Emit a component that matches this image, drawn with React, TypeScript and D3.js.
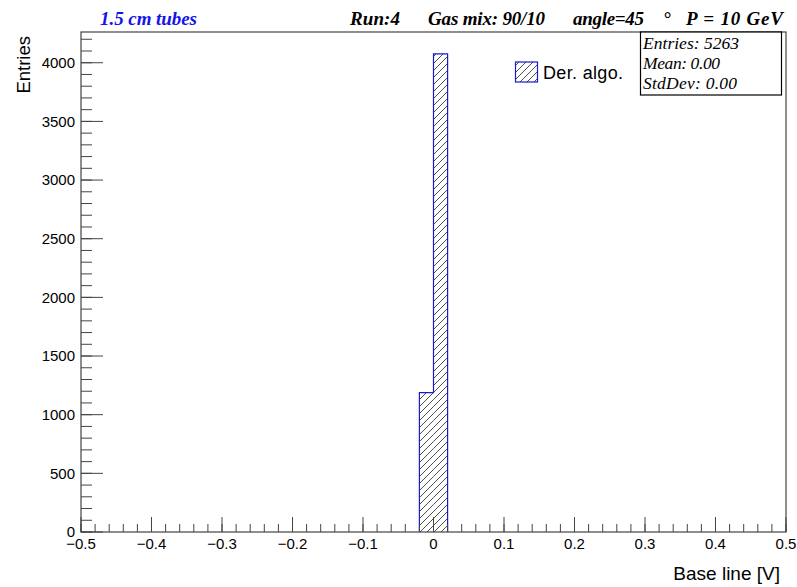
import React from "react";
import * as d3 from "d3";

const binStarts = [-0.02, 0.0];
const binCounts = [1188, 4075];
const binWidth = 0.02;
const xMajorTicks = [-0.5, -0.4, -0.3, -0.2, -0.1, 0, 0.1, 0.2, 0.3, 0.4, 0.5];
const yMajorTicks = [0, 500, 1000, 1500, 2000, 2500, 3000, 3500, 4000];
const statsLines = ["Entries: 5263", "Mean: 0.00", "StdDev: 0.00"];
const statsWidths = [96, 77, 94];
const headerItems = ["Run:4", "Gas mix: 90/10", "angle=45", "°", "P = 10 GeV"];
const headerX = [350, 428, 573, 663, 686];
const headerW = [50, 117, 71, 0, 97];

const W = 797, H = 587;
const L = 81, R = 786, T = 32, B = 532;

export default function App() {
  const x = d3.scaleLinear().domain([-0.5, 0.5]).range([L, R]);
  const y = d3.scaleLinear().domain([0, 4262]).range([B, T]);
  const xMinor = d3.range(-0.5, 0.5001, 0.02).map((v) => +v.toFixed(3));
  const yMinor = d3.range(0, 4262, 100);
  const fmtX = (v: number) => (v === 0 ? "0" : (v < 0 ? "\u2212" : "") + Math.abs(v).toFixed(1));
  const axisColor = "#444";
  const sans = "'Liberation Sans', Arial, sans-serif";
  const serif = "'Liberation Serif', 'Times New Roman', serif";

  return (
    <svg width={W} height={H} style={{ position: "absolute", left: 0, top: 0, background: "#fff" }}>
      <defs>
        <pattern id="hatch" patternUnits="userSpaceOnUse" width={7} height={7}>
          <path d="M-1,1 l2,-2 M0,7 l7,-7 M6,8 l2,-2" stroke="#222" strokeWidth={0.8} />
        </pattern>
      </defs>
      <rect x={0} y={0} width={W} height={H} fill="#fff" />
      {binStarts.map((s, i) => (
        <rect
          key={i}
          x={x(s)}
          y={y(binCounts[i])}
          width={x(s + binWidth) - x(s)}
          height={B - y(binCounts[i])}
          fill="url(#hatch)"
        />
      ))}
      <path
        d={(() => {
          const p = d3.path();
          p.moveTo(x(binStarts[0]), B);
          binStarts.forEach((s, i) => {
            p.lineTo(x(s), y(binCounts[i]));
            p.lineTo(x(s + binWidth), y(binCounts[i]));
          });
          p.lineTo(x(binStarts[binStarts.length - 1] + binWidth), B);
          return p.toString();
        })()}
        fill="none"
        stroke="#1a1acc"
        strokeWidth={1.2}
      />
      <rect x={L} y={T} width={R - L} height={B - T} fill="none" stroke={axisColor} strokeWidth={1.2} />
      {xMinor.map((v, i) => (
        <line key={"xm" + i} x1={x(v)} x2={x(v)} y1={B} y2={B - 8} stroke={axisColor} strokeWidth={1} />
      ))}
      {xMajorTicks.map((v, i) => (
        <g key={"xM" + i}>
          <line x1={x(v)} x2={x(v)} y1={B} y2={B - 15} stroke={axisColor} strokeWidth={1} />
          <text x={x(v)} y={549} textAnchor="middle" fontFamily={sans} fontSize={15} fill="#000">
            {fmtX(v)}
          </text>
        </g>
      ))}
      {yMinor.map((v, i) => (
        <line key={"ym" + i} x1={L} x2={L + 11} y1={y(v)} y2={y(v)} stroke={axisColor} strokeWidth={1} />
      ))}
      {yMajorTicks.map((v, i) => (
        <g key={"yM" + i}>
          <line x1={L} x2={L + 22} y1={y(v)} y2={y(v)} stroke={axisColor} strokeWidth={1} />
          <text x={75} y={y(v)} dy="0.36em" textAnchor="end" fontFamily={sans} fontSize={15} fill="#000">
            {v}
          </text>
        </g>
      ))}
      <text x={780} y={580} textAnchor="end" fontFamily={sans} fontSize={19} fill="#000">
        Base line [V]
      </text>
      <text transform="translate(30,36) rotate(-90)" textAnchor="end" fontFamily={sans} fontSize={18.5} fill="#000">
        Entries
      </text>
      <text x={100} y={25} fontFamily={serif} fontStyle="italic" fontWeight="bold" fontSize={19} fill="#1414e6"
        textLength={97} lengthAdjust="spacing">
        1.5 cm tubes
      </text>
      {headerItems.map((h, i) => (
        <text
          key={"h" + i}
          x={headerX[i]}
          y={25}
          fontFamily={serif}
          fontStyle="italic"
          fontWeight="bold"
          fontSize={19}
          fill="#000"
          {...(headerW[i] > 0 ? { textLength: headerW[i], lengthAdjust: "spacing" } : {})}
        >
          {h}
        </text>
      ))}
      <rect x={515.5} y={62} width={22} height={20} fill="url(#hatch)" stroke="#1a1acc" strokeWidth={1.2} />
      <text x={543} y={78.5} fontFamily={sans} fontSize={18} fill="#000" textLength={80} lengthAdjust="spacing">
        Der. algo.
      </text>
      <rect x={640.5} y={T} width={141} height={63} fill="#fff" stroke="#000" strokeWidth={1.2} />
      {statsLines.map((s, i) => (
        <text key={"s" + i} x={643} y={49 + i * 20} fontFamily={serif} fontStyle="italic" fontSize={17.5} fill="#000"
          textLength={statsWidths[i]} lengthAdjust="spacing">
          {s}
        </text>
      ))}
    </svg>
  );
}
